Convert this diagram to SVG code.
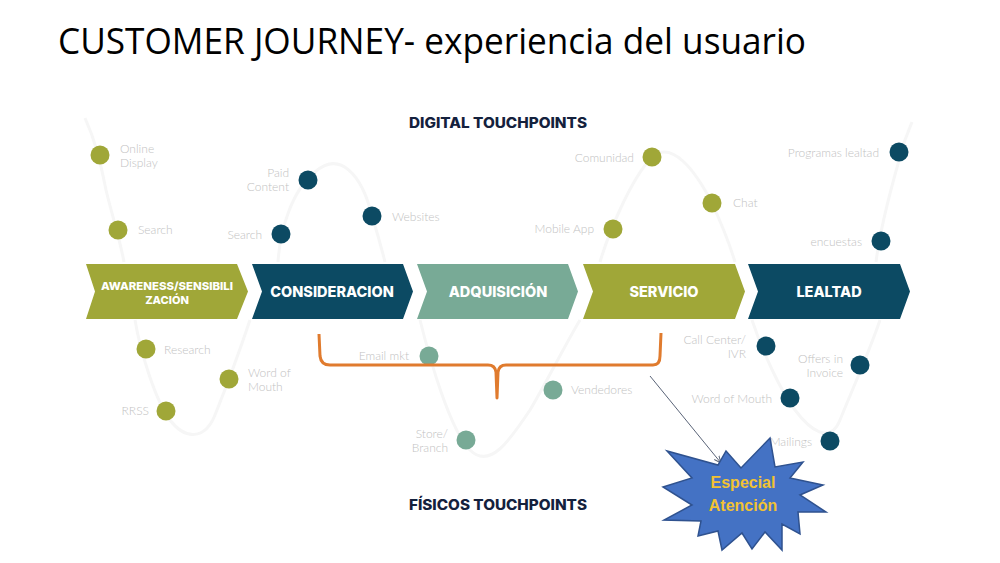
<svg xmlns="http://www.w3.org/2000/svg" width="1000" height="563" viewBox="0 0 1000 563">
<style>
.title{font-family:"Open Sans","Liberation Sans",sans-serif;font-size:36px;fill:#000}
.head{font-family:Inter,"Open Sans",sans-serif;font-weight:800;font-size:14px;fill:#14213d}
.chev{font-family:Inter,"Open Sans",sans-serif;font-weight:800;fill:#fff;text-anchor:middle}
.lbl{font-family:Lato,"Open Sans",sans-serif;font-weight:300;font-size:12px;fill:#c2c2c2}
.r{text-anchor:end}
.olive{fill:#a0a738}
.dark{fill:#0c4a63}
.sage{fill:#78aa96}
.wave{fill:none;stroke:#f6f6f6;stroke-width:3}
.star{font-family:"Liberation Sans",Arial,sans-serif;font-weight:bold;font-size:16px;fill:#f2c232;text-anchor:middle}
</style>
<defs>
<marker id="arr" markerWidth="8" markerHeight="8" refX="7" refY="4" orient="auto" markerUnits="userSpaceOnUse">
<path d="M0,1 L7,4 L0,7" fill="none" stroke="#5a6478" stroke-width="1"/>
</marker>
</defs>
<rect width="1000" height="563" fill="#fff"/>
<text class="title" x="58" y="54" textLength="748" lengthAdjust="spacingAndGlyphs">CUSTOMER JOURNEY- experiencia del usuario</text>

<g id="waves">
<path class="wave" d="M85,118 C95,140 100,160 106,190 C112,215 120,240 124,262"/>
<path class="wave" d="M278,262 C280,230 292,190 315,172 C340,150 362,175 372,216 C378,235 382,250 385,262"/>
<path class="wave" d="M600,262 C608,235 630,180 652,157 C672,140 695,170 712,203 C722,225 730,245 735,262"/>
<path class="wave" d="M876,262 C880,230 893,180 905,140 L912,122"/>
<path class="wave" d="M135,320 C140,350 155,400 170,420 C185,440 205,440 215,415 C225,390 240,350 250,320"/>
<path class="wave" d="M420,320 C430,360 450,430 470,450 C490,470 510,440 530,410 C545,385 565,345 580,320"/>
<path class="wave" d="M752,320 C762,350 780,390 795,410 C810,430 830,445 840,420 C850,395 870,350 880,320"/>
</g>

<g id="digital-heading"><text class="head" x="409" y="128" textLength="178" lengthAdjust="spacingAndGlyphs">DIGITAL TOUCHPOINTS</text></g>
<g id="fisicos-heading"><text class="head" x="409" y="510" textLength="178" lengthAdjust="spacingAndGlyphs">FÍSICOS TOUCHPOINTS</text></g>

<g id="stage-awareness">
<polygon class="olive" points="86,264 237,264 248,291.5 237,319 86,319 95,291.5"/>
<text class="chev" font-size="11" x="167" y="290" textLength="132" lengthAdjust="spacingAndGlyphs">AWARENESS/SENSIBILI</text>
<text class="chev" font-size="11" x="167" y="304">ZACIÓN</text>
</g>
<g id="stage-consideracion">
<polygon class="dark" points="252,264 403,264 413,291.5 403,319 252,319 262,291.5"/>
<text class="chev" font-size="14.5" x="332" y="297">CONSIDERACION</text>
</g>
<g id="stage-adquisicion">
<polygon class="sage" points="417,264 568,264 578,291.5 568,319 417,319 427,291.5"/>
<text class="chev" font-size="14.5" x="498" y="297">ADQUISICIÓN</text>
</g>
<g id="stage-servicio">
<polygon class="olive" points="583,264 735,264 745,291.5 735,319 583,319 593,291.5"/>
<text class="chev" font-size="14.5" x="664" y="297">SERVICIO</text>
</g>
<g id="stage-lealtad">
<polygon class="dark" points="748,264 900,264 910,291.5 900,319 748,319 758,291.5"/>
<text class="chev" font-size="14.5" x="829" y="297">LEALTAD</text>
</g>

<g id="tp-online-display"><circle class="olive" cx="100" cy="155" r="9.5"/><text class="lbl" x="120" y="153">Online</text><text class="lbl" x="120" y="167">Display</text></g>
<g id="tp-search-1"><circle class="olive" cx="118" cy="230" r="9.5"/><text class="lbl" x="138" y="234">Search</text></g>
<g id="tp-paid-content"><circle class="dark" cx="308" cy="180" r="9.5"/><text class="lbl r" x="289" y="177">Paid</text><text class="lbl r" x="289" y="191">Content</text></g>
<g id="tp-search-2"><circle class="dark" cx="281" cy="234" r="9.5"/><text class="lbl r" x="262" y="239">Search</text></g>
<g id="tp-websites"><circle class="dark" cx="372" cy="216" r="9.5"/><text class="lbl" x="392" y="221">Websites</text></g>
<g id="tp-comunidad"><circle class="olive" cx="652" cy="157" r="9.5"/><text class="lbl r" x="634" y="162">Comunidad</text></g>
<g id="tp-mobile-app"><circle class="olive" cx="613" cy="229" r="9.5"/><text class="lbl r" x="594" y="233">Mobile App</text></g>
<g id="tp-chat"><circle class="olive" cx="712" cy="203" r="9.5"/><text class="lbl" x="733" y="207">Chat</text></g>
<g id="tp-programas"><circle class="dark" cx="899" cy="152" r="9.5"/><text class="lbl r" x="879" y="157">Programas lealtad</text></g>
<g id="tp-encuestas"><circle class="dark" cx="881" cy="241" r="9.5"/><text class="lbl r" x="862" y="246">encuestas</text></g>

<g id="tp-research"><circle class="olive" cx="146" cy="349" r="9.5"/><text class="lbl" x="164" y="354">Research</text></g>
<g id="tp-word-mouth-1"><circle class="olive" cx="229" cy="379" r="9.5"/><text class="lbl" x="248" y="377">Word of</text><text class="lbl" x="248" y="391">Mouth</text></g>
<g id="tp-rrss"><circle class="olive" cx="166" cy="411" r="9.5"/><text class="lbl r" x="149" y="415">RRSS</text></g>
<g id="tp-email"><circle class="sage" cx="429" cy="356" r="9.5"/><text class="lbl r" x="409" y="360">Email mkt</text></g>
<g id="tp-vendedores"><circle class="sage" cx="553" cy="390" r="9.5"/><text class="lbl" x="571" y="394">Vendedores</text></g>
<g id="tp-store"><circle class="sage" cx="466" cy="440" r="9.5"/><text class="lbl r" x="448" y="438">Store/</text><text class="lbl r" x="448" y="452">Branch</text></g>
<g id="tp-call-center"><circle class="dark" cx="766" cy="346" r="9.5"/><text class="lbl r" x="746" y="344">Call Center/</text><text class="lbl r" x="746" y="358">IVR</text></g>
<g id="tp-offers"><circle class="dark" cx="860" cy="365" r="9.5"/><text class="lbl r" x="843" y="363">Offers in</text><text class="lbl r" x="843" y="377">Invoice</text></g>
<g id="tp-word-mouth-2"><circle class="dark" cx="790" cy="398" r="9.5"/><text class="lbl r" x="772" y="403">Word of Mouth</text></g>
<g id="tp-mailings"><circle class="dark" cx="830" cy="441" r="9.5"/><text class="lbl r" x="812" y="446">Mailings</text></g>

<g id="connectors">
<path d="M319,334 L320,356 Q321,365 330,365 L488,365 Q495,365 496,372 L497,398 L498,372 Q499,365 506,365 L653,365 Q660,365 660,356 L661,333" fill="none" stroke="#e07b2e" stroke-width="3" stroke-linejoin="round"/>
<line x1="650" y1="376" x2="721" y2="463" stroke="#5a6478" stroke-width="1" marker-end="url(#arr)"/>
</g>

<g id="especial-atencion">
<polygon points="770,438 775,467 803,462 790,478 823,485 800,495 826,512 798,512 800,534 782,524 782,550 765,532 752,549 742,533 722,550 718,531 698,536 701,521 664,520 692,505 663,487 692,478 667,451 718,465 726,451 741,468" fill="#4472c4" stroke="#2f528f" stroke-width="1.5" stroke-linejoin="miter"/>
<text class="star" x="743" y="488">Especial</text>
<text class="star" x="743" y="511">Atención</text>
</g>
</svg>
